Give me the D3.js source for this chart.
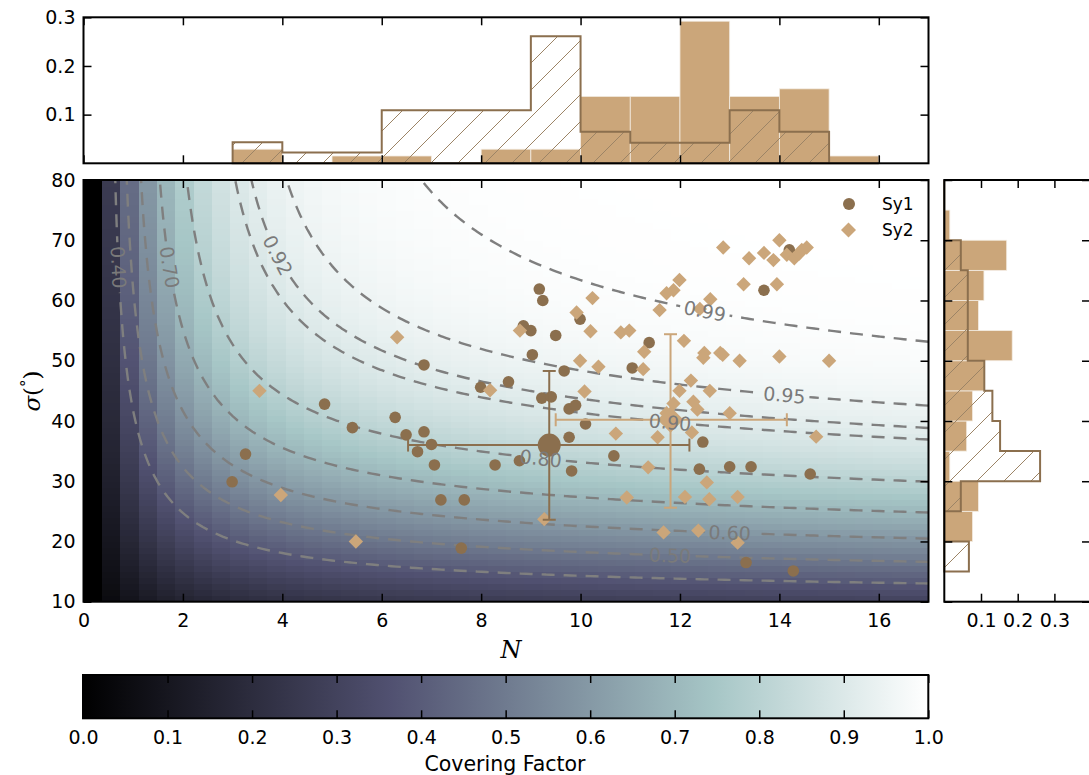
<!DOCTYPE html>
<meta charset="utf-8">
<style>
body{margin:0;background:#fff;}
svg{font-family:"DejaVu Sans",sans-serif;}
</style>
<script src="https://d3js.org/d3.v7.min.js"></script>
<svg id="fig" width="1089" height="775"></svg>
<script>
// ---- data ----
var sy1N = [9.17,9.24,9.99,8.85,9.0,9.5,11.38,9.03,6.85,9.67,11.04,8.55,7.99,9.22,9.41,9.77,9.9,6.27,5.41,6.49,
            6.85,7.0,6.72,7.06,8.28,8.77,9.77,10.1,9.82,10.67,7.19,7.66,7.6,4.85,3.26,2.99,12.46,12.39,13.0,13.43,
            14.62,13.33,14.28,13.69,14.2];
var sy1Sig = [61.9,60.0,56.9,55.8,55.0,54.2,53.0,51.0,49.3,48.3,48.8,46.5,45.6,43.8,44.0,42.0,42.6,40.6,38.9,37.7,
              38.2,36.1,34.9,32.7,32.7,33.4,37.3,39.5,31.7,34.2,26.9,26.9,18.9,42.8,34.5,29.9,36.5,32.0,32.4,32.4,
              31.2,16.5,15.1,61.7,68.4];
var sy2N = [3.54,3.97,5.48,6.31,10.24,9.92,10.2,8.78,10.81,10.98,11.28,11.26,9.99,10.36,8.18,10.08,10.71,11.36,10.93,9.27,
            12.87,13.39,13.69,14.0,13.88,14.15,14.3,14.45,14.55,14.4,13.28,13.95,11.99,11.87,11.73,12.61,11.59,12.4,12.08,12.49,
            12.47,12.81,12.86,13.2,14.0,15.0,12.22,11.99,12.6,12.27,12.35,13.0,11.87,11.73,11.55,12.24,14.74,12.54,12.1,12.59,
            13.16,11.67,12.37,13.16];
var sy2Sig = [45.0,27.7,20.0,53.9,60.4,58.0,54.9,55.0,54.7,55.0,51.5,48.6,50.0,49.0,45.1,44.9,37.9,32.3,27.3,23.7,
              68.8,67.0,67.9,70.0,66.7,67.6,67.0,68.4,68.8,67.8,62.7,62.7,63.4,61.7,61.2,60.2,58.4,58.6,53.3,51.3,
              50.5,51.3,51.0,50.0,50.7,50.0,46.7,45.0,45.0,43.2,41.9,41.3,42.9,41.3,37.3,38.1,37.4,29.8,27.4,27.0,
              27.4,21.5,21.8,19.8];

// mean and spread: [N, sigma], N range, sigma range
var sy1Mean = [9.37, 36.0], sy1ErrN = [6.53, 12.19], sy1ErrSig = [23.6, 48.3];
var sy2Mean = [11.81, 40.2], sy2ErrN = [9.5, 14.15], sy2ErrSig = [25.6, 54.4];

// histograms
var nEdges = [3,4,5,6,7,8,9,10,11,12,13,14,15,16];
var sy1HistN = [0.043,0.022,0.022,0.109,0.109,0.109,0.261,0.065,0.042,0.042,0.109,0.065,0];
var sy2HistN = [0.029,0,0.015,0.015,0,0.029,0.029,0.1375,0.1375,0.292,0.1375,0.153,0.015];
var sigEdges = [15,20,25,30,35,40,45,50,55,60,65,70,75,80];
var sy1HistSig = [0.067,0,0.045,0.261,0.152,0.131,0.109,0.064,0.064,0.064,0.045,0,0];
var sy2HistSig = [0,0.077,0.093,0.015,0.061,0.077,0.109,0.185,0.093,0.108,0.17,0.015,0];

// contour levels and where their labels sit
var levels = [0.40,0.50,0.60,0.70,0.80,0.90,0.92,0.95,0.99];
var labelSpots = [[0.40,0.63,65.6],[0.70,1.71,65.6],[0.92,3.92,67.5],[0.99,12.5,58.4],[0.95,14.15,44.3],
                  [0.90,11.77,39.6],[0.80,9.19,33.5],[0.60,13.04,21.4],[0.50,11.77,17.5]];

var nTicks = [0,2,4,6,8,10,12,14,16];
var sigTicks = [10,20,30,40,50,60,70,80];
var topTicks = [0.1,0.2,0.3];
var sideTicks = [0.1,0.2,0.3];
var cbTicks = [0,0.1,0.2,0.3,0.4,0.5,0.6,0.7,0.8,0.9,1.0];

var c1 = "#8b6f4e", c2 = "#cba67a";

// ---- covering factor of the clumpy torus ----
function cf(N, sigDeg) {
  var s = sigDeg * Math.PI / 180, n = 120, h = (Math.PI / 2) / n, sum = 0;
  for (var k = 0; k <= n; k++) {
    var b = k * h;
    var f = Math.exp(-N * Math.exp(-b * b / (s * s))) * Math.cos(b);
    sum += (k == 0 || k == n) ? f : (k % 2 ? 4 * f : 2 * f);
  }
  return 1 - sum * h / 3;
}

// matplotlib "bone"
var boneR = [[0,0],[0.746032,0.652778],[1,1]],
    boneG = [[0,0],[0.365079,0.319444],[0.746032,0.777778],[1,1]],
    boneB = [[0,0],[0.365079,0.444444],[1,1]];
function seg(st, v) {
  for (var k = 1; k < st.length; k++) {
    if (v <= st[k][0]) return st[k-1][1] + (v - st[k-1][0]) / (st[k][0] - st[k-1][0]) * (st[k][1] - st[k-1][1]);
  }
  return 1;
}
function bone(v) {
  v = Math.max(0, Math.min(1, v));
  return d3.rgb(255*seg(boneR,v), 255*seg(boneG,v), 255*seg(boneB,v)).toString();
}

var svg = d3.select("#fig");
var defs = svg.append("defs");

var x = d3.scaleLinear().domain([0,17]).range([83.5,928.5]);
var y = d3.scaleLinear().domain([10,80]).range([601.7,180]);
var yTop = d3.scaleLinear().domain([0,0.3]).range([163.3,17.3]);
var xSide = d3.scaleLinear().domain([0,0.4]).range([944.3,1091.1]);
var xCb = d3.scaleLinear().domain([0,1]).range([83,928.3]);

defs.append("clipPath").attr("id","mainclip").append("rect")
  .attr("x",x(0)).attr("y",y(80)).attr("width",x(17)-x(0)).attr("height",y(10)-y(80));

// hatch
defs.append("pattern").attr("id","hatch").attr("patternUnits","userSpaceOnUse")
  .attr("width",27).attr("height",27)
  .append("path").attr("d","M-3,30 L30,-3 M-10,10 L10,-10 M17,37 L37,17")
  .attr("stroke","#9c8466").attr("stroke-width",1);

// ---- heat map ----
var cols = 46, rows = 70;
var gHeat = svg.append("g").attr("clip-path","url(#mainclip)").attr("shape-rendering","crispEdges");
for (var i = 0; i < cols; i++) {
  for (var j = 0; j < rows; j++) {
    var n0 = i*17/cols, n1 = (i+1)*17/cols, s0 = 10 + j*70/rows, s1 = 10 + (j+1)*70/rows;
    gHeat.append("rect")
      .attr("x", x(n0)).attr("y", y(s1))
      .attr("width", x(n1)-x(n0)+0.6).attr("height", y(s0)-y(s1)+0.6)
      .attr("fill", bone(cf(i*17/(cols-1), 10 + j*70/(rows-1))));
  }
}

// ---- contours ----
var nx = 171, ny = 141, dN = 17/(nx-1), dS = 70/(ny-1);
var grid = new Float64Array(nx*ny);
for (var j = 0; j < ny; j++) for (var i = 0; i < nx; i++) grid[j*nx+i] = cf(i*dN, 10 + j*dS);
var conts = d3.contours().size([nx,ny]).thresholds(levels)(grid);

var lines = {}; // level -> list of pixel polylines
conts.forEach(function(c) {
  var key = c.value.toFixed(2);
  lines[key] = [];
  c.coordinates.forEach(function(poly) {
    poly.forEach(function(ring) {
      var onB = function(p){ return p[0] <= 1e-9 || p[0] >= nx-1e-9 || p[1] <= 1e-9 || p[1] >= ny-1e-9; };
      var start = ring.findIndex(onB);
      var pts = start < 0 ? ring : ring.slice(start).concat(ring.slice(1, start+1));
      var cur = [];
      pts.forEach(function(p) {
        if (onB(p)) { if (cur.length > 1) lines[key].push(cur); cur = []; }
        else cur.push([x((p[0]-0.5)*dN), y(10 + (p[1]-0.5)*dS)]);
      });
      if (cur.length > 1) lines[key].push(cur);
    });
  });
});

var mask = defs.append("mask").attr("id","lblmask").attr("maskUnits","userSpaceOnUse")
  .attr("x",0).attr("y",0).attr("width",1089).attr("height",775);
mask.append("rect").attr("width",1089).attr("height",775).attr("fill","white");

var gCont = svg.append("g").attr("clip-path","url(#mainclip)");
var gContLines = gCont.append("g").attr("mask","url(#lblmask)");
var lineGen = d3.line();
levels.forEach(function(lv) {
  (lines[lv.toFixed(2)] || []).forEach(function(pl) {
    gContLines.append("path").attr("d", lineGen(pl)).attr("fill","none")
      .attr("stroke","#7f7f7f").attr("stroke-width",2.4).attr("stroke-dasharray","13,9");
  });
});

// ---- scatter ----
function diamond(r) { return "M0," + (-r) + "L" + r + ",0L0," + r + "L" + (-r) + ",0Z"; }
var gPts = svg.append("g").attr("clip-path","url(#mainclip)");
gPts.selectAll("circle.sy1").data(d3.range(sy1N.length)).enter().append("circle")
  .attr("cx", function(k){ return x(sy1N[k]); }).attr("cy", function(k){ return y(sy1Sig[k]); })
  .attr("r", 5.8).attr("fill", c1);
gPts.selectAll("path.sy2").data(d3.range(sy2N.length)).enter().append("path")
  .attr("transform", function(k){ return "translate(" + x(sy2N[k]) + "," + y(sy2Sig[k]) + ")"; })
  .attr("d", diamond(7.2)).attr("fill", c2);

// error bars + means
function errbar(mean, eN, eS, col, big) {
  var g = gPts.append("g").attr("stroke", col).attr("stroke-width", 2).attr("fill","none");
  g.append("line").attr("x1", x(eN[0])).attr("x2", x(eN[1])).attr("y1", y(mean[1])).attr("y2", y(mean[1]));
  g.append("line").attr("x1", x(mean[0])).attr("x2", x(mean[0])).attr("y1", y(eS[0])).attr("y2", y(eS[1]));
  eN.forEach(function(v){ g.append("line").attr("x1", x(v)).attr("x2", x(v)).attr("y1", y(mean[1])-6.5).attr("y2", y(mean[1])+6.5); });
  eS.forEach(function(v){ g.append("line").attr("x1", x(mean[0])-6.5).attr("x2", x(mean[0])+6.5).attr("y1", y(v)).attr("y2", y(v)); });
  if (big == "c") gPts.append("circle").attr("cx", x(mean[0])).attr("cy", y(mean[1])).attr("r", 11.5).attr("fill", col);
  else gPts.append("path").attr("transform","translate(" + x(mean[0]) + "," + y(mean[1]) + ")").attr("d", diamond(13)).attr("fill", col);
}
errbar(sy1Mean, sy1ErrN, sy1ErrSig, c1, "c");
errbar(sy2Mean, sy2ErrN, sy2ErrSig, c2, "d");

// ---- contour labels (on top of the points) ----
var gLbl = svg.append("g").attr("clip-path","url(#mainclip)");
labelSpots.forEach(function(ls) {
  var tx = x(ls[1]), ty = y(ls[2]), best = null, bd = 1e9;
  (lines[ls[0].toFixed(2)] || []).forEach(function(pl) {
    pl.forEach(function(p, k) {
      var d = (p[0]-tx)*(p[0]-tx) + (p[1]-ty)*(p[1]-ty);
      if (d < bd) { bd = d; best = [pl, k]; }
    });
  });
  if (!best) return;
  var pl = best[0], k = best[1], p = pl[k];
  var a = pl[Math.max(0,k-3)], b = pl[Math.min(pl.length-1,k+3)];
  var ang = Math.atan2(b[1]-a[1], b[0]-a[0]) * 180 / Math.PI;
  if (ang > 90) ang -= 180;
  if (ang < -90) ang += 180;
  var t = gLbl.append("text").attr("transform","translate(" + p[0] + "," + p[1] + ") rotate(" + ang + ")")
    .attr("text-anchor","middle").attr("dy","0.36em").attr("font-size",19)
    .attr("fill","#7a7a7a").text(ls[0].toFixed(2));
  var w = t.node().getComputedTextLength() + 8;
  mask.append("rect").attr("x",-w/2).attr("y",-8).attr("width",w).attr("height",16).attr("fill","black")
    .attr("transform","translate(" + p[0] + "," + p[1] + ") rotate(" + ang + ")");
});

// ---- legend ----
var gLeg = svg.append("g");
gLeg.append("circle").attr("cx",849).attr("cy",204).attr("r",6).attr("fill",c1);
gLeg.append("path").attr("transform","translate(848.5,230)").attr("d",diamond(7.5)).attr("fill",c2);
gLeg.append("text").attr("x",882).attr("y",210).attr("font-size",17).text("Sy1");
gLeg.append("text").attr("x",882).attr("y",236).attr("font-size",17).text("Sy2");

// ---- histograms ----
function stepPath(edges, vals, fx, fy) {
  var pts = [[fx(edges[0]), fy(0)]];
  vals.forEach(function(v, k) { pts.push([fx(edges[k]), fy(v)]); pts.push([fx(edges[k+1]), fy(v)]); });
  pts.push([fx(edges[edges.length-1]), fy(0)]);
  return d3.line()(pts) + "Z";
}
var gTop = svg.append("g");
gTop.selectAll("rect").data(d3.range(sy2HistN.length).filter(function(k){ return sy2HistN[k] > 0; })).enter().append("rect")
  .attr("x", function(k){ return x(nEdges[k]); }).attr("width", function(k){ return x(nEdges[k+1]) - x(nEdges[k]); })
  .attr("y", function(k){ return yTop(sy2HistN[k]); }).attr("height", function(k){ return yTop(0) - yTop(sy2HistN[k]); })
  .attr("fill", c2).attr("stroke", "#f3ece2").attr("stroke-width", 0.8);
gTop.append("path").attr("d", stepPath(nEdges, sy1HistN, x, yTop))
  .attr("fill","url(#hatch)").attr("stroke", c1).attr("stroke-width", 2);

var gSide = svg.append("g");
gSide.selectAll("rect").data(d3.range(sy2HistSig.length).filter(function(k){ return sy2HistSig[k] > 0; })).enter().append("rect")
  .attr("y", function(k){ return y(sigEdges[k+1]); }).attr("height", function(k){ return y(sigEdges[k]) - y(sigEdges[k+1]); })
  .attr("x", xSide(0)).attr("width", function(k){ return xSide(sy2HistSig[k]) - xSide(0); })
  .attr("fill", c2).attr("stroke", "#f3ece2").attr("stroke-width", 0.8);
gSide.append("path").attr("d", stepPath(sigEdges, sy1HistSig, y, xSide)
    .replace(/(-?[\d.]+),(-?[\d.]+)/g, function(m, a, b){ return b + "," + a; }))
  .attr("fill","url(#hatch)").attr("stroke", c1).attr("stroke-width", 2);

// ---- colour bar ----
var grad = defs.append("linearGradient").attr("id","bonegrad");
[0,0.365079,0.746032,1].forEach(function(v){ grad.append("stop").attr("offset", v).attr("stop-color", bone(v)); });
svg.append("rect").attr("x", xCb(0)).attr("y", 675).attr("width", xCb(1)-xCb(0)).attr("height", 43.3).attr("fill","url(#bonegrad)");

// ---- axes ----
function frame(x0, y0, x1, y1) {
  svg.append("rect").attr("x", x0).attr("y", y0).attr("width", x1-x0).attr("height", y1-y0)
    .attr("fill","none").attr("stroke","#000").attr("stroke-width",2);
}
function axis(gen, tx, ty, labels) {
  var g = svg.append("g").attr("transform","translate(" + tx + "," + ty + ")").call(gen);
  g.select(".domain").remove();
  g.selectAll(".tick line").attr("stroke","#000").attr("stroke-width",1.5);
  g.selectAll("text").attr("font-size",19).attr("font-family","DejaVu Sans").attr("fill","#000");
  if (!labels) g.selectAll("text").remove();
  return g;
}
// main
axis(d3.axisBottom(x).tickValues(nTicks).tickSize(-8).tickPadding(12).tickFormat(d3.format("d")), 0, y(10), true);
axis(d3.axisTop(x).tickValues(nTicks).tickSize(-8), 0, y(80), false);
axis(d3.axisLeft(y).tickValues(sigTicks).tickSize(-8).tickPadding(8).tickFormat(d3.format("d")), x(0), 0, true);
axis(d3.axisRight(y).tickValues(sigTicks).tickSize(-8), x(17), 0, false);
frame(x(0), y(80), x(17), y(10));
// top hist
axis(d3.axisBottom(x).tickValues(nTicks).tickSize(-8), 0, yTop(0), false);
axis(d3.axisTop(x).tickValues(nTicks).tickSize(-8), 0, yTop(0.3), false);
axis(d3.axisLeft(yTop).tickValues(topTicks).tickSize(-8).tickPadding(8).tickFormat(d3.format(".1f")), x(0), 0, true);
axis(d3.axisRight(yTop).tickValues(topTicks).tickSize(-8), x(17), 0, false);
frame(x(0), yTop(0.3), x(17), yTop(0));
// side hist
axis(d3.axisBottom(xSide).tickValues(sideTicks).tickSize(-8).tickPadding(12).tickFormat(d3.format(".1f")), 0, y(10), true);
axis(d3.axisTop(xSide).tickValues(sideTicks).tickSize(-8), 0, y(80), false);
axis(d3.axisLeft(y).tickValues(sigTicks).tickSize(-8), xSide(0), 0, false);
axis(d3.axisRight(y).tickValues(sigTicks).tickSize(-8), 1090, 0, false);
frame(xSide(0), y(80), 1090, y(10));
// colour bar
axis(d3.axisBottom(xCb).tickValues(cbTicks).tickSize(-8).tickPadding(12).tickFormat(d3.format(".1f")), 0, 718.3, true);
axis(d3.axisTop(xCb).tickValues(cbTicks).tickSize(-8), 0, 675, false);
frame(xCb(0), 675, xCb(1), 718.3);

// axis titles
svg.append("text").attr("x", 511).attr("y", 658).attr("text-anchor","middle")
  .attr("font-family","DejaVu Serif").attr("font-style","italic").attr("font-size",24).text("N");
var yl = svg.append("text").attr("transform","translate(40,391) rotate(-90)").attr("text-anchor","middle")
  .attr("font-family","DejaVu Serif").attr("font-size",23);
yl.append("tspan").attr("font-style","italic").text("σ");
yl.append("tspan").text("(");
yl.append("tspan").attr("font-size",15).attr("dy",-9).text("°");
yl.append("tspan").attr("dy",9).text(")");
svg.append("text").attr("x", 505).attr("y", 771).attr("text-anchor","middle").attr("font-size",20.5).text("Covering Factor");
</script>
